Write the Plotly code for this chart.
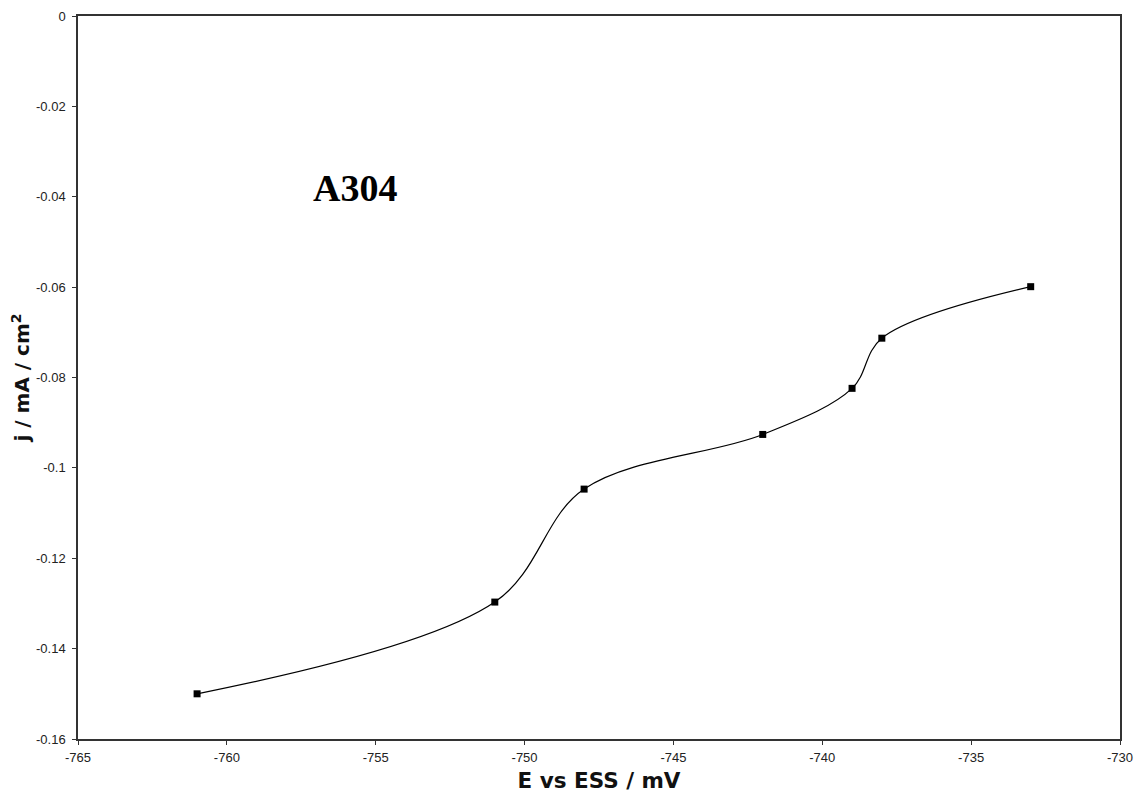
import plotly.graph_objects as go

E_mV = [-761, -751, -748, -742, -739, -738, -733]
j_mA_cm2 = [-0.150, -0.1297, -0.1047, -0.0926, -0.0824, -0.0713, -0.0599]

x_ticks = [-765, -760, -755, -750, -745, -740, -735, -730]
x_tick_labels = ["-765", "-760", "-755", "-750", "-745", "-740", "-735", "-730"]
y_ticks = [0, -0.02, -0.04, -0.06, -0.08, -0.1, -0.12, -0.14, -0.16]
y_tick_labels = ["0", "-0.02", "-0.04", "-0.06", "-0.08", "-0.1", "-0.12", "-0.14", "-0.16"]

fig = go.Figure()
fig.add_trace(go.Scatter(
    x=E_mV, y=j_mA_cm2, mode="lines+markers",
    line=dict(color="black", width=1.2, shape="spline", smoothing=1.0),
    marker=dict(color="black", size=7, symbol="square"),
    showlegend=False,
))

fig.add_annotation(x=-755.7, y=-0.0381, xref="x", yref="y", text="<b>A304</b>",
                   showarrow=False,
                   font=dict(family="Liberation Serif, Times New Roman, serif", size=38, color="black"))

axis_common = dict(showgrid=False, zeroline=False, showline=True, linecolor="#333333",
                   linewidth=1.5, mirror=True, ticks="outside", ticklen=4, tickcolor="#333333",
                   automargin=False,
                   tickfont=dict(family="Liberation Sans, Arial, sans-serif", size=13, color="#222222"))

x_title_font = dict(family="DejaVu Sans, Arial, sans-serif", size=21.5, color="#111111")
y_title_font = dict(family="DejaVu Sans, Arial, sans-serif", size=20, color="#111111")

fig.update_xaxes(range=[-765, -730], tickvals=x_ticks, ticktext=x_tick_labels,
                 ticklabelstandoff=2,
                 title=dict(text="<b>E vs ESS / mV</b>", standoff=9, font=x_title_font),
                 **axis_common)
fig.update_yaxes(range=[-0.16, 0], tickvals=y_ticks, ticktext=y_tick_labels,
                 ticklabelstandoff=4,
                 title=dict(text="<b>j / mA / cm<sup>2</sup></b>", standoff=1, font=y_title_font),
                 **axis_common)

fig.update_layout(width=1136, height=795, margin=dict(l=78, r=16, t=16, b=56),
                  plot_bgcolor="white", paper_bgcolor="white")

fig.write_html("out.html", config={"displayModeBar": False},
               post_script="document.body.style.margin='0';document.body.style.overflow='hidden';")
